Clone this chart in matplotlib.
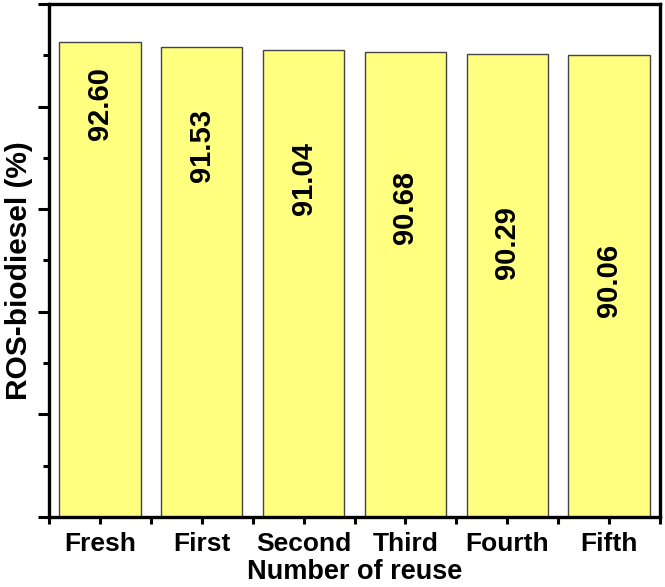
import matplotlib
matplotlib.use("Agg")
import matplotlib.pyplot as plt
from matplotlib.ticker import MultipleLocator, FixedLocator

categories = ["Fresh", "First", "Second", "Third", "Fourth", "Fifth"]
yields = [92.60, 91.53, 91.04, 90.68, 90.29, 90.06]
value_labels = ["92.60", "91.53", "91.04", "90.68", "90.29", "90.06"]

# where each value label is centred (data units), as in the original figure
label_centres = [80.6, 72.5, 65.9, 60.4, 53.5, 46.1]

plt.rcParams["font.family"] = ["Liberation Sans", "DejaVu Sans"]
plt.rcParams["font.weight"] = "bold"

fig = plt.figure(figsize=(6.65, 5.87), dpi=100)
ax = fig.add_axes([0.0737, 0.1193, 0.9188, 0.8739])

x = range(len(categories))
ax.bar(x, yields, width=0.8, color="#ffff80", edgecolor="#444444", linewidth=1.0)

for i, (lab, yc) in enumerate(zip(value_labels, label_centres)):
    ax.text(i, yc, lab, rotation=90, ha="center", va="center",
            fontsize=21, fontweight="bold")

ax.set_xlim(-0.5, len(categories) - 0.5)
ax.set_ylim(0, 100)

ax.set_xticks(list(x))
ax.set_xticklabels(categories, fontsize=19, fontweight="bold")
ax.xaxis.set_minor_locator(FixedLocator([i + 0.5 for i in range(-1, len(categories))]))
ax.yaxis.set_major_locator(MultipleLocator(20))
ax.yaxis.set_minor_locator(MultipleLocator(10))
ax.set_yticklabels([])

ax.tick_params(axis="y", which="major", length=8, width=2.2, direction="out", labelleft=False)
ax.tick_params(axis="y", which="minor", length=4, width=2.2, direction="out")
ax.tick_params(axis="x", which="major", length=5, width=2.2, direction="out", pad=6)
ax.tick_params(axis="x", which="minor", length=5, width=2.2, direction="out")
ax.tick_params(top=False, right=False)

for s in ax.spines.values():
    s.set_linewidth(2.4)

ax.set_xlabel("Number of reuse", fontsize=19.5, fontweight="bold", labelpad=2)
ax.set_ylabel("ROS-biodiesel (%)", fontsize=21.5, fontweight="bold")
ax.yaxis.set_label_coords(-0.026, 0.48)

fig.savefig("out.png", dpi=100)
